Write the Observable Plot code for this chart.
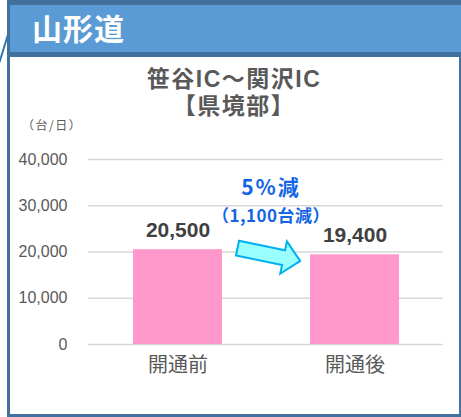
<!DOCTYPE html>
<html>
<head>
<meta charset="utf-8">
<script src="https://cdn.jsdelivr.net/npm/d3@7"></script>
<script src="https://cdn.jsdelivr.net/npm/@observablehq/plot@0.6"></script>
<style>
  html, body { margin: 0; padding: 0; background: #fff; }
  #frame { position: relative; width: 461px; height: 417px; overflow: hidden; font-family: "Noto Sans CJK JP", sans-serif; }
  #deco { position: absolute; left: 3px; top: 32px; width: 2px; height: 31px; background: #2e75b6; transform: rotate(17deg); transform-origin: center; }
  #box { position: absolute; left: 7px; top: 0; width: 454px; height: 417px; box-sizing: border-box; border-left: 3px solid #41719c; border-right: 2px solid #41719c; border-bottom: 3px solid #41719c; background: #fff; }
  #header { position: absolute; left: 7px; top: 0; width: 454px; height: 57px; box-sizing: border-box; background: #5b9bd5; border-top: 5px solid #41719c; border-bottom: 5px solid #41719c; border-left: 3px solid #41719c; }
  #header span { position: absolute; left: 22px; top: 3px; color: #fff; font-weight: bold; font-size: 30px; line-height: 38px; letter-spacing: 1px; }
  .title { position: absolute; left: 10px; width: 448px; text-align: center; color: #595959; font-weight: bold; font-family: "Liberation Sans", "Noto Sans CJK JP", sans-serif; font-size: 23px; line-height: 26px; letter-spacing: 1.5px; }
  #unit { position: absolute; left: 22px; top: 117px; color: #595959; font-size: 12px; line-height: 16px; letter-spacing: 1.5px; }
  #plot { position: absolute; left: 0; top: 135px; }
  #plot svg { overflow: visible; }
</style>
</head>
<body>
<div id="frame">
  <div id="deco"></div>
  <div id="box"></div>
  <div id="header"><span id="headerText"></span></div>
  <div class="title" id="title1" style="top:66px"></div>
  <div class="title" id="title2" style="top:93px"></div>
  <div id="unit"></div>
  <div id="plot"></div>
</div>
<script>
// ---- data ----
const headerText = "山形道";
const titleLines = ["笹谷IC～関沢IC", "【県境部】"];
const unitLabel = "（台/日）";
const categories = ["開通前", "開通後"];
const values = [20500, 19400];
const valueLabels = ["20,500", "19,400"];
const yTicks = [0, 10000, 20000, 30000, 40000];
const annotationLines = ["5%減", "（1,100台減）"];
const annotationY = [33700, 27700];

document.getElementById("headerText").textContent = headerText;
document.getElementById("title1").textContent = titleLines[0];
document.getElementById("title2").textContent = titleLines[1];
document.getElementById("unit").textContent = unitLabel;

const data = categories.map((c, i) => ({cat: c, value: values[i], label: valueLabels[i]}));
const ann = annotationLines.map((t, i) => ({text: t, y: annotationY[i], size: i === 0 ? 21 : 17}));

const numFont = "Liberation Sans, Arial, sans-serif";
const cjkFont = "Noto Sans CJK JP, sans-serif";

function arrowMark(index, scales, values, dimensions, context) {
  const xs = scales.x;
  const bw = typeof xs.bandwidth === "function" ? xs.bandwidth() : (scales.scales && scales.scales.x ? scales.scales.x.bandwidth : 88);
  const x0 = xs(categories[0]);
  const tx = x0 + bw + 15.5;
  const ty = scales.y(20500) - 1;
  const g = d3.create("svg:g");
  g.append("path")
    .attr("d", "M0,-7.5 L47,-7.5 L47,-16.5 L64,0 L47,16.5 L47,7.5 L0,7.5 Z")
    .attr("transform", `translate(${tx},${ty}) rotate(11.5)`)
    .attr("fill", "#99ffff")
    .attr("stroke", "#00b0f0")
    .attr("stroke-width", 2)
    .attr("stroke-linejoin", "miter");
  return g.node();
}

const chart = Plot.plot({
  width: 461,
  height: 260,
  marginLeft: 88,
  marginRight: 18,
  marginTop: 24,
  marginBottom: 51,
  style: {background: "transparent", color: "#595959", overflow: "visible"},
  x: {domain: categories, paddingInner: 0.5, paddingOuter: 0.25, label: null},
  y: {domain: [0, 40000], label: null},
  marks: [
    Plot.gridY(yTicks, {stroke: "#d9d9d9", strokeOpacity: 1, strokeWidth: 1.5}),
    Plot.axisY(yTicks, {tickSize: 0, tickPadding: 21, tickFormat: d3.format(","), fontSize: 16, fontFamily: numFont, fill: "#595959", label: null}),
    Plot.axisX({tickSize: 0, tickPadding: 13, fontSize: 20, fontFamily: cjkFont, fill: "#595959", label: null}),
    Plot.barY(data, {x: "cat", y: "value", fill: "#ff99cc"}),
    Plot.text(data, {x: "cat", y: "value", text: "label", dy: -13, lineAnchor: "bottom", fontSize: 21, fontWeight: "bold", fontFamily: numFont, fill: "#404040"}),
    arrowMark,
    Plot.text(ann, {x: () => categories[0], y: "y", text: "text", dx: 93, fontSize: "size", fontWeight: "bold", fontFamily: cjkFont, fill: "#1464e6", lineAnchor: "middle"})
  ]
});
document.getElementById("plot").appendChild(chart);
// letter spacing for annotation lines
d3.select(chart).selectAll("text").filter(function () { return annotationLines.includes(this.textContent); })
  .style("letter-spacing", function () { return this.textContent === annotationLines[0] ? "2px" : "0.5px"; });
</script>
</body>
</html>
